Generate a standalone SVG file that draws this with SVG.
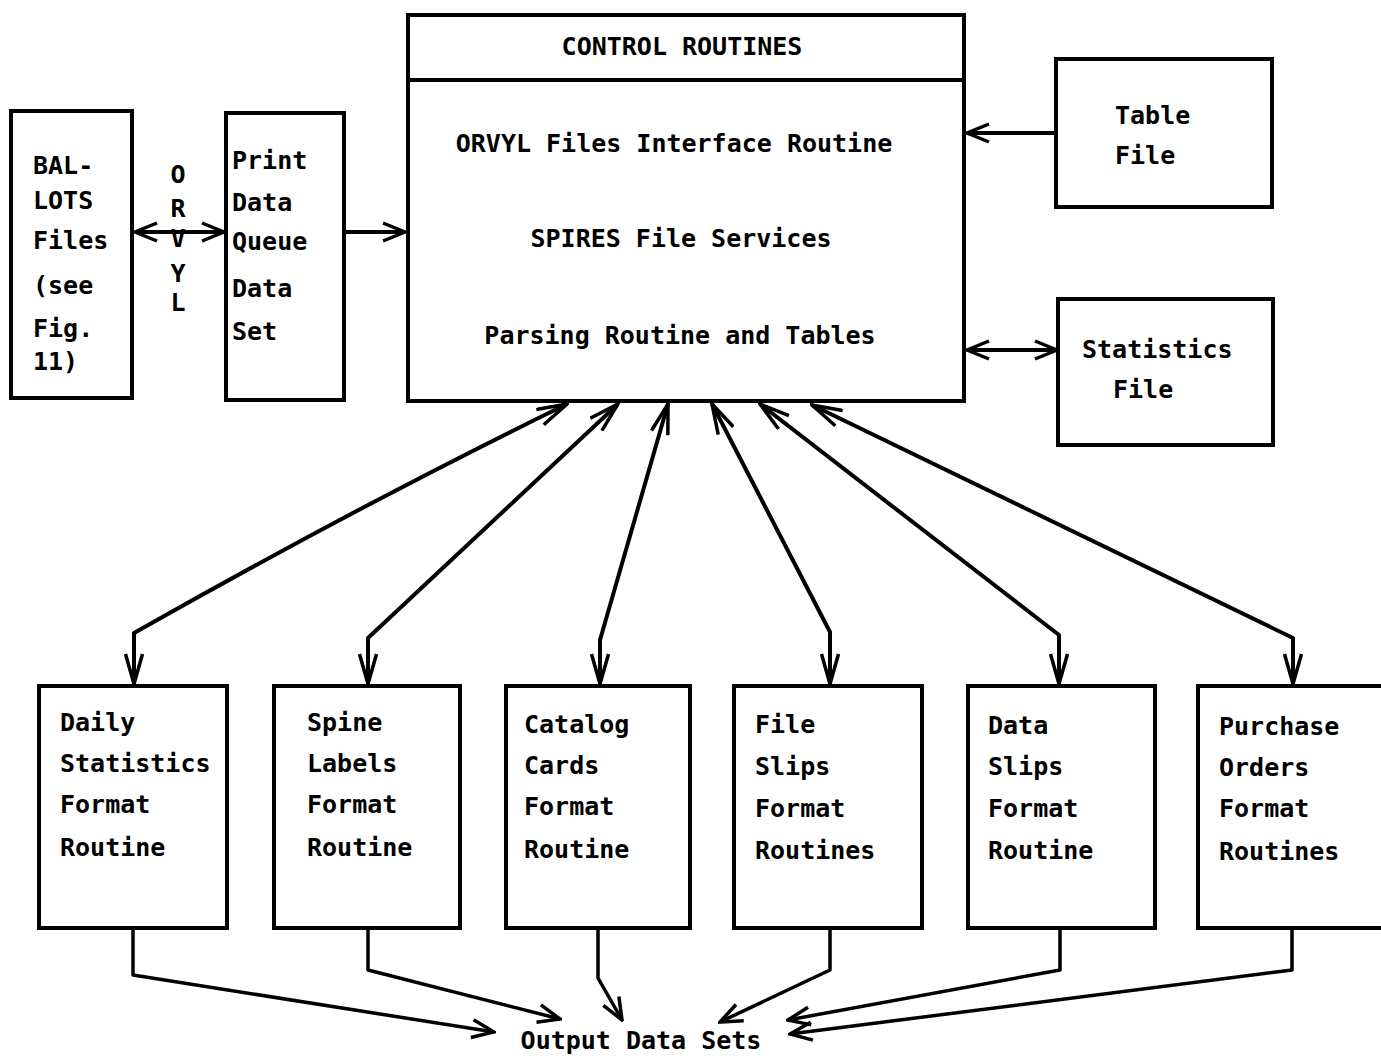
<svg xmlns="http://www.w3.org/2000/svg" width="1381" height="1056" viewBox="0 0 1381 1056">
<style>
.box{fill:none;stroke:#000;stroke-width:4}
.t{font-family:"DejaVu Sans Mono","Liberation Mono",monospace;font-weight:bold;font-size:25px;fill:#000}
.c{fill:none;stroke:#000;stroke-width:4;stroke-linejoin:round}
.c2{fill:none;stroke:#000;stroke-width:3.5;stroke-linejoin:round}
</style>
<defs>
<marker id="ah" viewBox="0 0 26 22" refX="24" refY="11" markerWidth="26" markerHeight="22" markerUnits="userSpaceOnUse" orient="auto-start-reverse">
<path d="M2,2 L24,11 L2,20" fill="none" stroke="#000" stroke-width="3.5"/>
</marker>
<marker id="al" viewBox="0 0 34 20" refX="32" refY="10" markerWidth="34" markerHeight="20" markerUnits="userSpaceOnUse" orient="auto-start-reverse">
<path d="M2,1.5 L32,10 L2,18.5" fill="none" stroke="#000" stroke-width="3.5"/>
</marker>
</defs>
<rect width="1381" height="1056" fill="#fff"/>

<g id="ballots">
<rect class="box" x="11" y="111" width="121" height="287"/>
<text class="t" x="33" y="174">BAL-</text>
<text class="t" x="33" y="209">LOTS</text>
<text class="t" x="33" y="249">Files</text>
<text class="t" x="33" y="294">(see</text>
<text class="t" x="33" y="337">Fig.</text>
<text class="t" x="33" y="370">11)</text>
</g>

<g id="orvyl-label">
<text class="t" x="178" y="183" text-anchor="middle">O</text>
<text class="t" x="178" y="217" text-anchor="middle">R</text>
<text class="t" x="178" y="247" text-anchor="middle">V</text>
<text class="t" x="178" y="282" text-anchor="middle">Y</text>
<text class="t" x="178" y="311" text-anchor="middle">L</text>
</g>

<g id="printqueue">
<rect class="box" x="226" y="113" width="118" height="287"/>
<text class="t" x="232" y="169">Print</text>
<text class="t" x="232" y="211">Data</text>
<text class="t" x="232" y="250">Queue</text>
<text class="t" x="232" y="297">Data</text>
<text class="t" x="232" y="340">Set</text>
</g>

<g id="control">
<rect class="box" x="408" y="15" width="556" height="386"/>
<line x1="408" y1="80" x2="964" y2="80" stroke="#000" stroke-width="4"/>
<text class="t" x="682" y="55" text-anchor="middle">CONTROL ROUTINES</text>
<text class="t" x="674" y="152" text-anchor="middle">ORVYL Files Interface Routine</text>
<text class="t" x="681" y="247" text-anchor="middle">SPIRES File Services</text>
<text class="t" x="680" y="344" text-anchor="middle">Parsing Routine and Tables</text>
</g>

<g id="tablefile">
<rect class="box" x="1056" y="59" width="216" height="148"/>
<text class="t" x="1115" y="124">Table</text>
<text class="t" x="1115" y="164">File</text>
</g>

<g id="statsfile">
<rect class="box" x="1058" y="299" width="215" height="146"/>
<text class="t" x="1082" y="358">Statistics</text>
<text class="t" x="1113" y="398">File</text>
</g>

<g id="daily">
<rect class="box" x="39" y="686" width="188" height="242"/>
<text class="t" x="60" y="731">Daily</text>
<text class="t" x="60" y="772">Statistics</text>
<text class="t" x="60" y="813">Format</text>
<text class="t" x="60" y="856">Routine</text>
</g>

<g id="spine">
<rect class="box" x="274" y="686" width="186" height="242"/>
<text class="t" x="307" y="731">Spine</text>
<text class="t" x="307" y="772">Labels</text>
<text class="t" x="307" y="813">Format</text>
<text class="t" x="307" y="856">Routine</text>
</g>

<g id="catalog">
<rect class="box" x="506" y="686" width="184" height="242"/>
<text class="t" x="524" y="733">Catalog</text>
<text class="t" x="524" y="774">Cards</text>
<text class="t" x="524" y="815">Format</text>
<text class="t" x="524" y="858">Routine</text>
</g>

<g id="fileslips">
<rect class="box" x="734" y="686" width="188" height="242"/>
<text class="t" x="755" y="733">File</text>
<text class="t" x="755" y="775">Slips</text>
<text class="t" x="755" y="817">Format</text>
<text class="t" x="755" y="859">Routines</text>
</g>

<g id="dataslips">
<rect class="box" x="968" y="686" width="187" height="242"/>
<text class="t" x="988" y="734">Data</text>
<text class="t" x="988" y="775">Slips</text>
<text class="t" x="988" y="817">Format</text>
<text class="t" x="988" y="859">Routine</text>
</g>

<g id="purchase">
<rect class="box" x="1198" y="686" width="185" height="242"/>
<text class="t" x="1219" y="735">Purchase</text>
<text class="t" x="1219" y="776">Orders</text>
<text class="t" x="1219" y="817">Format</text>
<text class="t" x="1219" y="860">Routines</text>
</g>

<g id="output">
<text class="t" x="641" y="1049" text-anchor="middle">Output Data Sets</text>
</g>

<g id="connectors">
<line class="c" x1="135" y1="232" x2="224" y2="232" marker-start="url(#ah)" marker-end="url(#ah)"/>
<line class="c" x1="346" y1="232" x2="405" y2="232" marker-end="url(#ah)"/>
<line class="c" x1="1055" y1="133" x2="967" y2="133" marker-end="url(#ah)"/>
<line class="c" x1="967" y1="350" x2="1057" y2="350" marker-start="url(#ah)" marker-end="url(#ah)"/>

<path class="c" d="M567,404 Q360,505 134,633 L134,684" marker-start="url(#al)" marker-end="url(#al)"/>
<polyline class="c" points="618,404 368,638 368,684" marker-start="url(#al)" marker-end="url(#al)"/>
<polyline class="c" points="668,404 600,640 600,684" marker-start="url(#al)" marker-end="url(#al)"/>
<polyline class="c" points="712,404 830,632 830,684" marker-start="url(#al)" marker-end="url(#al)"/>
<polyline class="c" points="760,404 1059,635 1059,684" marker-start="url(#al)" marker-end="url(#al)"/>
<polyline class="c" points="812,405 1293,638 1293,684" marker-start="url(#al)" marker-end="url(#al)"/>

<polyline class="c2" points="133,930 133,975 494,1032" marker-end="url(#ah)"/>
<polyline class="c2" points="368,930 368,970 560,1019" marker-end="url(#ah)"/>
<polyline class="c2" points="598,930 598,978 622,1020" marker-end="url(#ah)"/>
<polyline class="c2" points="830,930 830,970 720,1022" marker-end="url(#ah)"/>
<polyline class="c2" points="1060,930 1060,970 788,1020" marker-end="url(#ah)"/>
<polyline class="c2" points="1292,930 1292,970 790,1034" marker-end="url(#ah)"/>
</g>
</svg>
